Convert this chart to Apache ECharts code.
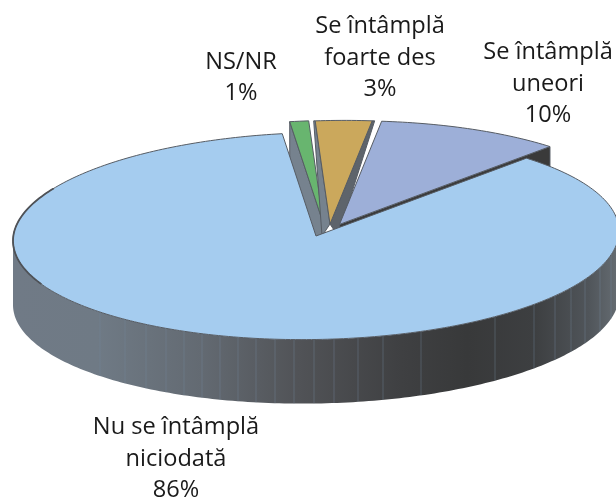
<!DOCTYPE html>
<html>
<head>
<meta charset="utf-8">
<style>html,body{margin:0;padding:0;background:#fff}#c{width:616px;height:497px}</style>
<script src="https://cdn.jsdelivr.net/npm/echarts@6/dist/echarts.min.js"></script>
</head>
<body>
<div id="c"></div>
<script>
// Data, in clockwise drawing order (back to front)
var categories = ['NS/NR', 'Se întâmplă\nfoarte des', 'Se întâmplă\nuneori', 'Nu se întâmplă\nniciodată'];
var values = [1, 3, 10, 86];
var total = 100;
var startAngle = 96.4;

// Styles and layout
var sliceColors = ['#68b56f', '#cba85c', '#9dafd8', '#a5ccef'];
var sliceOffsets = [[7.5, -12], [14, -12], [23.5, -11.6], [0, 0]];
var labelAnchors = [[241, 78], [380, 58], [548, 84], [176, 459]];
var facetX = [100, 125, 146, 166, 184, 202, 220, 238, 256, 275, 294, 314, 334, 358, 383, 421, 495, 534, 555, 571, 585, 600, 611];
var CX = 316, CY = 236, RX = 303, RY = 103.5, DEPTH = 64, SHEAR = 0.016;
var EDGE = '#565c64';
var wallStops = [
  [0, '#707a86'], [0.14, '#6f7a85'], [0.31, '#636a72'], [0.47, '#515357'],
  [0.64, '#3f4042'], [0.75, '#38393a'], [0.86, '#3d3f41'], [0.95, '#50555a'], [1, '#666d73']
];
// radial cut faces: side of the slice, colour, outer-corner shift, inner-corner shifts
var cutFaces = [
  [{ side: 0, color: '#76828e', outer: [0, 64], inner: [[0, 14], [-7.5, 14]] }],
  [{ side: 0, color: '#76828e', outer: [-1.5, 0], inner: [[-8, 12]] },
   { side: 1, color: '#5e646b', outer: [2.5, 0], inner: [[8, 12]] }],
  [{ side: 1, color: '#3a3a3a', outer: [0, 64], inner: [[0, 64]] }],
  []
];

function pt(cx, cy, deg) {
  var a = deg * Math.PI / 180;
  return [cx + RX * Math.cos(a), cy - RY * Math.sin(a) - SHEAR * RX * Math.cos(a)];
}
function arc(cx, cy, from, to) {
  var out = [], n = Math.max(2, Math.ceil(Math.abs(to - from)));
  for (var i = 0; i <= n; i++) out.push(pt(cx, cy, from + (to - from) * i / n));
  return out;
}
function poly(points, fill, stroke, lw) {
  return { type: 'polygon', shape: { points: points },
    style: { fill: fill, stroke: stroke || null, lineWidth: lw || 0, lineJoin: 'round' }, silent: true };
}
function sumBefore(i) {
  var s = 0;
  for (var k = 0; k < i; k++) s += values[k];
  return s;
}

function renderItem(params, api) {
  var i = params.dataIndex;
  var v = api.value(0);
  var a0 = startAngle - sumBefore(i) / total * 360;
  var a1 = a0 - v / total * 360;
  var cx = CX + sliceOffsets[i][0], cy = CY + sliceOffsets[i][1];
  var kids = [];

  // outer rim: only the part that faces the viewer
  if (a1 <= -180 && a0 >= 0) {
    var upper = arc(cx, cy, -180, 0);
    var lower = upper.map(function (p) { return [p[0], p[1] + DEPTH]; }).reverse();
    kids.push(poly(upper.concat(lower), new echarts.graphic.LinearGradient(
      CX - RX, 0, CX + RX, 0,
      wallStops.map(function (s) { return { offset: s[0], color: s[1] }; }), true)));
    facetX.forEach(function (x) {
      var t = (x - cx) / RX;
      if (Math.abs(t) >= 1) return;
      var y = cy + RY * Math.sqrt(1 - t * t) - SHEAR * (x - cx);
      kids.push({ type: 'line', shape: { x1: x, y1: y, x2: x, y2: y + DEPTH }, silent: true,
        style: { stroke: '#75889c', lineWidth: 1, opacity: 0.4 } });
    });
  }

  cutFaces[i].forEach(function (f) {
    var p = pt(cx, cy, f.side ? a1 : a0);
    var pts = [p, [cx, cy]];
    f.inner.forEach(function (s) { pts.push([cx + s[0], cy + s[1]]); });
    pts.push([p[0] + f.outer[0], p[1] + f.outer[1]]);
    kids.push(poly(pts, f.color, EDGE, 1));
  });

  // top face
  var top = [[cx, cy]].concat(arc(cx, cy, a0, a1));
  kids.push(poly(top, sliceColors[i], EDGE, 1));

  // heavier outline on the left end of the largest slice
  if (a1 <= -180 && a0 >= 0) {
    kids.push({ type: 'polyline', shape: { points: arc(cx, cy, 150, 205) }, silent: true,
      style: { stroke: '#4f5257', lineWidth: 1.8, fill: null } });
  }

  // label
  kids.push({ type: 'text', x: labelAnchors[i][0], y: labelAnchors[i][1], silent: true,
    style: { text: categories[i] + '\n' + v + '%', fill: '#1a1a1a', font: '23.6px "Open Sans"',
      lineHeight: 31.5, align: 'center', verticalAlign: 'middle' } });

  return { type: 'group', children: kids };
}

var chart = echarts.init(document.getElementById('c'), null, { renderer: 'canvas' });
chart.setOption({
  animation: false,
  backgroundColor: '#ffffff',
  series: [{
    type: 'custom',
    coordinateSystem: 'none',
    renderItem: renderItem,
    data: values.map(function (v, i) { return { name: categories[i], value: [v] }; })
  }]
});
</script>
</body>
</html>
